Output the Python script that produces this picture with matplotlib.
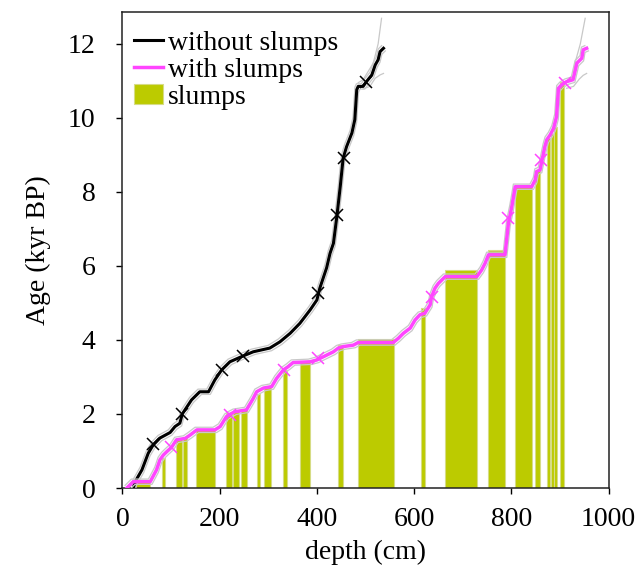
import numpy as np
import matplotlib
matplotlib.use("Agg")
import matplotlib.pyplot as plt
import matplotlib.patheffects as pe

plt.rcParams["font.family"] = ["Liberation Serif", "DejaVu Serif"]

# age model without slumps (depth in cm, age in kyr BP)
black_depth = [22, 26, 40, 53, 63, 77, 98, 108, 118, 123, 142, 159, 177, 190, 204,
               221, 245, 269, 303, 324, 345, 365, 386, 400, 406, 420, 427, 434, 441,
               448, 454, 461, 472, 478, 482, 485, 495, 502, 513, 520, 526, 530, 537]
black_age = [0.0, 0.17, 0.49, 0.94, 1.16, 1.35, 1.5, 1.66, 1.75, 2.0, 2.38, 2.6, 2.6,
             2.92, 3.19, 3.41, 3.55, 3.68, 3.78, 3.95, 4.18, 4.45, 4.81, 5.08, 5.4,
             5.95, 6.34, 6.61, 7.33, 8.14, 8.91, 9.22, 9.59, 9.95, 10.76, 10.85, 10.85,
             10.98, 11.16, 11.43, 11.57, 11.79, 11.88]
black_hi_depth = [485, 495, 516, 526, 533]
black_hi_age = [10.95, 11.03, 11.48, 12.0, 12.69]
black_lo_depth = [495, 509, 520, 530, 537]
black_lo_age = [10.78, 10.85, 11.07, 11.16, 11.2]
black_mark_depth = [62, 123, 205, 247, 402, 441, 455, 502]
black_mark_age = [1.18, 2.0, 3.19, 3.56, 5.27, 7.38, 8.92, 10.98]

# age model with slumps
mag_depth = [9, 22, 57, 70, 77, 84, 91, 101, 111, 129, 139, 153, 190, 201, 214, 221,
             231, 255, 269, 276, 290, 307, 317, 331, 341, 351, 386, 400, 420, 434, 444,
             454, 475, 485, 557, 568, 578, 592, 602, 612, 622, 633, 636, 643, 650, 664,
             729, 739, 746, 753, 787, 794, 801, 808, 842, 849, 852, 859, 869, 873, 880,
             887, 893, 897, 904, 914, 927, 935, 945, 948, 955]
mag_age = [0.0, 0.17, 0.17, 0.49, 0.76, 0.89, 0.98, 1.1, 1.3, 1.34, 1.43, 1.57, 1.57,
           1.66, 1.93, 1.99, 2.06, 2.11, 2.42, 2.6, 2.7, 2.74, 2.96, 3.19, 3.28, 3.39,
           3.41, 3.46, 3.59, 3.68, 3.78, 3.82, 3.86, 3.93, 3.93, 4.05, 4.18, 4.32, 4.54,
           4.68, 4.72, 4.95, 5.17, 5.4, 5.53, 5.71, 5.71, 5.89, 6.07, 6.3, 6.3, 7.15,
           7.6, 8.14, 8.14, 8.32, 8.55, 8.59, 9.22, 9.41, 9.54, 9.72, 10.03, 10.8, 10.9,
           10.98, 11.03, 11.48, 11.61, 11.84, 11.88]
mag_hi_depth = [914, 928, 931, 942, 952]
mag_hi_age = [11.0, 11.12, 11.48, 12.0, 12.69]
mag_lo_depth = [914, 928, 940, 948, 955]
mag_lo_age = [10.8, 10.85, 11.05, 11.15, 11.2]
mag_mark_depth = [100, 221, 332, 403, 636, 794, 862, 910]
mag_mark_age = [1.12, 1.98, 3.18, 3.5, 5.17, 7.29, 8.86, 10.94]

# slump intervals (cm) and the age they sit at
slump_start = [26, 81, 110, 124, 151, 213, 227, 243, 276, 291, 331, 365, 443, 484,
               614, 664, 753, 808, 849, 873, 881, 888, 900]
slump_end = [57, 87, 122, 132, 190, 225, 239, 257, 282, 306, 338, 386, 454, 559,
             622, 729, 787, 842, 859, 880, 887, 893, 909]
slump_top = [0.15, 0.8, 1.34, 1.38, 1.57, 2.03, 2.07, 2.11, 2.55, 2.74, 3.19, 3.4,
             3.86, 4.02, 4.86, 5.89, 6.42, 8.19, 8.56, 9.45, 9.56, 9.74, 10.98]

GREEN = "#bccb00"
MAGENTA = "#ff45ff"
GREY = "#c8c8c8"
FS = 20

fig = plt.figure(figsize=(6.4, 5.66), dpi=100)
ax = fig.add_axes([0.1914, 0.1378, 0.7594, 0.841])

widths = np.array(slump_end) - np.array(slump_start)
ax.bar(slump_start, slump_top, width=widths, align="edge", color=GREEN,
       edgecolor="#d6dc85", linewidth=0.8, label="slumps", zorder=1)

# grey envelope drawn as offset strokes around each curve
env = [pe.Stroke(offset=(-1.3, 1.9), linewidth=0.9, foreground=GREY),
       pe.Stroke(offset=(1.3, -1.9), linewidth=0.9, foreground=GREY),
       pe.Normal()]

ax.plot(black_hi_depth, black_hi_age, color=GREY, lw=0.9, zorder=2)
ax.plot(black_lo_depth, black_lo_age, color=GREY, lw=0.9, zorder=2)
ax.plot(mag_hi_depth, mag_hi_age, color=GREY, lw=0.9, zorder=2)
ax.plot(mag_lo_depth, mag_lo_age, color=GREY, lw=0.9, zorder=2)

ax.plot(black_depth, black_age, color="black", lw=2.2, zorder=3,
        path_effects=env, label="without slumps")
ax.plot(mag_depth, mag_age, color=MAGENTA, lw=2.5, zorder=3,
        path_effects=env, label="with slumps")

ax.plot(black_mark_depth, black_mark_age, "x", color="black", ms=9, mew=1.1, zorder=4)
ax.plot(mag_mark_depth, mag_mark_age, "x", color=MAGENTA, ms=9, mew=1.1, zorder=4)

ax.set_xlim(0, 1000)
ax.set_ylim(0, 12.86)
ax.set_xticks([0, 200, 400, 600, 800, 1000])
ax.set_yticks([0, 2, 4, 6, 8, 10, 12])
ax.tick_params(direction="out", length=4.5, width=1, labelsize=FS)
ax.tick_params(axis="x", pad=9)
ax.tick_params(axis="y", pad=15)
for s in ax.spines.values():
    s.set_linewidth(1.1)
    s.set_color("#222222")

ax.set_xlabel("depth (cm)", fontsize=FS, labelpad=6)
ax.set_ylabel("Age (kyr BP)", fontsize=FS, labelpad=12)

handles, labels = ax.get_legend_handles_labels()
order = [labels.index(l) for l in ["without slumps", "with slumps", "slumps"]]
leg = ax.legend([handles[i] for i in order], [labels[i] for i in order],
                loc="upper left", bbox_to_anchor=(0.0, 0.985), frameon=False,
                fontsize=FS, handlelength=1.05, handletextpad=0.2,
                labelspacing=0.06, borderaxespad=0.0)
for h in leg.legend_handles[:2]:
    h.set_path_effects([])

fig.savefig("out.png", dpi=100)
